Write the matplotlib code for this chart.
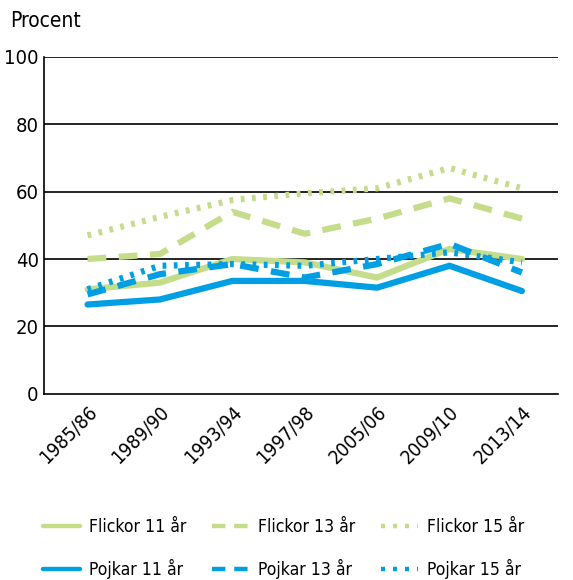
import numpy as np
import matplotlib.pyplot as plt
from matplotlib.lines import Line2D

plt.rcParams['font.family'] = ['DejaVu Sans']
plt.rcParams['font.stretch'] = 'condensed'

years = ["1985/86", "1989/90", "1993/94", "1997/98", "2005/06", "2009/10", "2013/14"]
flickor_11 = [31, 33, 40, 39, 34.5, 43, 40]
flickor_13 = [40, 41.5, 54, 47.5, 52, 58, 52]
flickor_15 = [47, 52.5, 57.5, 59.5, 61, 67, 61]
pojkar_11 = [26.5, 28, 33.5, 33.5, 31.5, 38, 30.5]
pojkar_13 = [29.5, 35.5, 38.5, 34.5, 38.5, 44.5, 36]
pojkar_15 = [31, 38, 38.5, 38, 40, 42, 39]

green = '#c5dc8a'
blue = '#009fe3'
lw = 4.5

fig = plt.figure(figsize=(5.73, 5.80), dpi=100)
ax = fig.add_axes([0.077, 0.321, 0.897, 0.581])
x = np.arange(len(years))

for yv in [20, 40, 60, 80, 100]:
    ax.axhline(yv, color='black', lw=1.2, zorder=1)

series = [
    ('Flickor 11 år', flickor_11, green, None),
    ('Flickor 13 år', flickor_13, green, (3, 2)),
    ('Flickor 15 år', flickor_15, green, (0.6, 1.2)),
    ('Pojkar 11 år', pojkar_11, blue, None),
    ('Pojkar 13 år', pojkar_13, blue, (3, 2)),
    ('Pojkar 15 år', pojkar_15, blue, (0.6, 1.2)),
]
proxies = {}
for label, vals, col, dash in series:
    if dash is None:
        ax.plot(x, vals, color=col, lw=lw, solid_capstyle='round')
        proxies[label] = Line2D([], [], color=col, lw=3.2, solid_capstyle='round')
    else:
        ax.plot(x, vals, color=col, lw=lw, dashes=dash)
        ld = (3, 2) if dash[0] > 1 else (0.9, 1.8)
        proxies[label] = Line2D([], [], color=col, lw=3.2, dashes=ld)

ax.set_xlim(-0.6, 6.5)
ax.set_ylim(0, 100)
ax.set_yticks([0, 20, 40, 60, 80, 100])
ax.set_xticks(x)
ax.set_xticklabels(years, rotation=45, ha='right', va='top', rotation_mode='anchor', fontsize=14)
ax.tick_params(axis='y', labelsize=14.5, length=0, pad=4)
ax.tick_params(axis='x', length=0, pad=6)
for s in ['top', 'right']:
    ax.spines[s].set_visible(False)
ax.spines['left'].set_linewidth(1.2)
ax.spines['bottom'].set_linewidth(1.2)

fig.text(0.017, 0.947, 'Procent', fontsize=15, ha='left', va='bottom')

order = ['Flickor 11 år', 'Pojkar 11 år', 'Flickor 13 år', 'Pojkar 13 år', 'Flickor 15 år', 'Pojkar 15 år']
fig.legend(handles=[proxies[o] for o in order], labels=order, ncol=3,
           loc='lower center', bbox_to_anchor=(0.495, -0.025), frameon=False,
           fontsize=12.6, handlelength=2.1, columnspacing=1.5, handletextpad=0.5,
           labelspacing=1.3)

fig.savefig('out.png', dpi=100)
